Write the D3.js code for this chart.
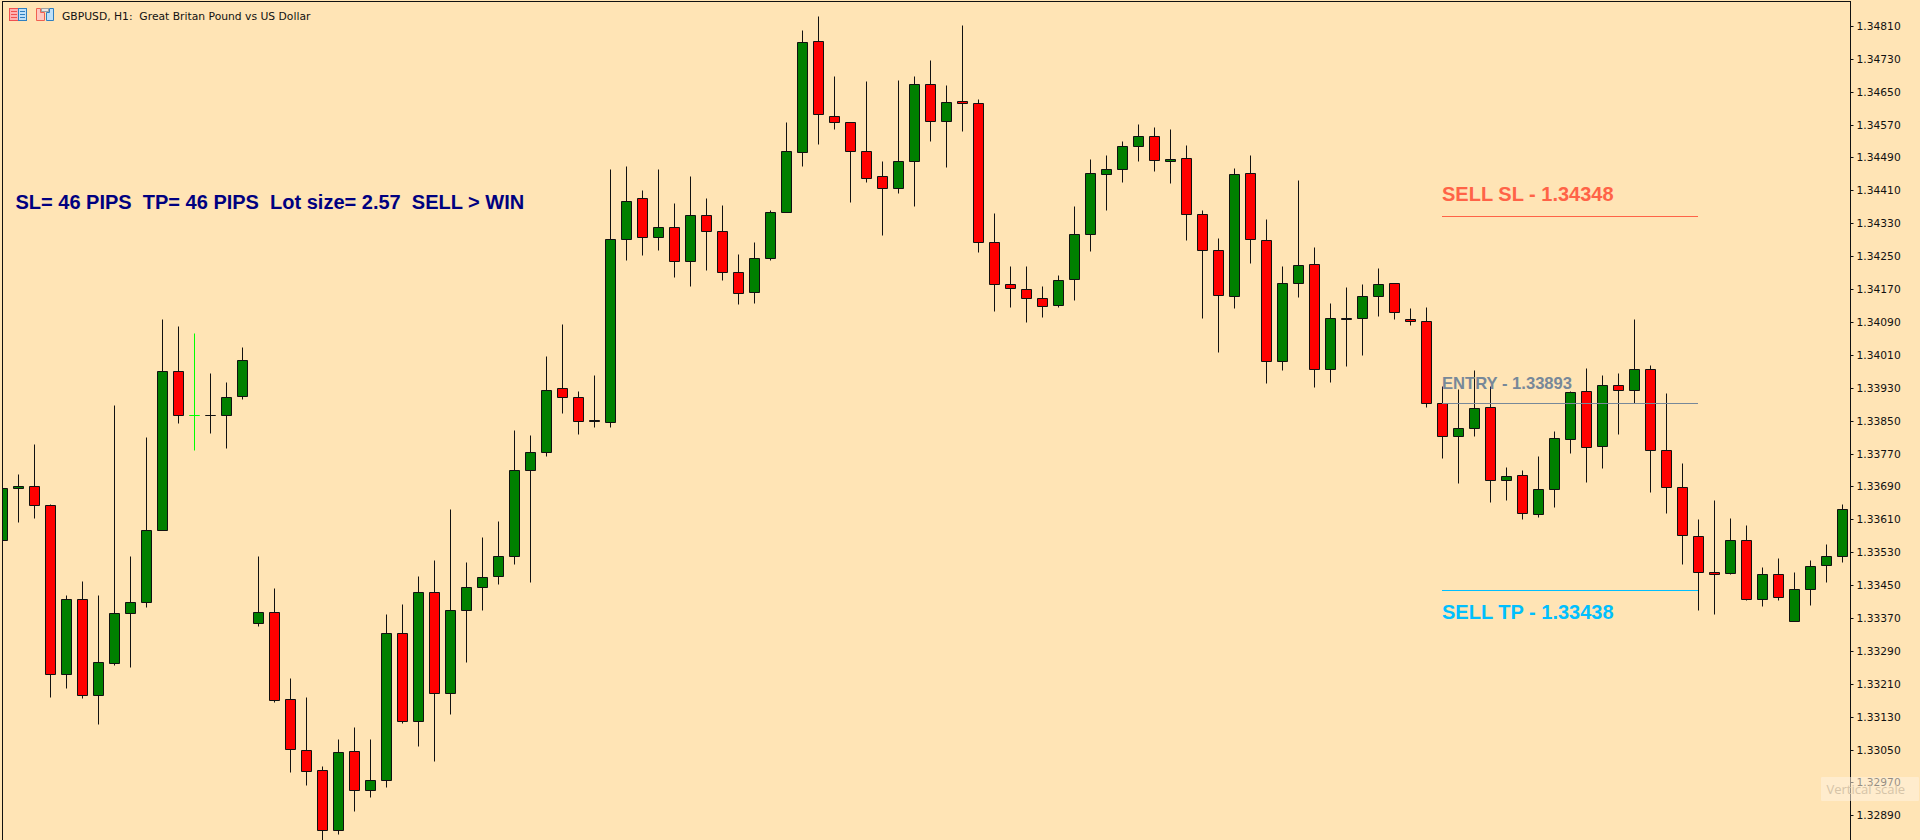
<!DOCTYPE html>
<html><head><meta charset="utf-8">
<script src="https://cdn.jsdelivr.net/npm/d3@7/dist/d3.min.js"></script>
<style>html,body{margin:0;padding:0;background:#FFE4B5;overflow:hidden}svg{display:block}text{white-space:pre}</style>
</head><body><div id="chart"></div>
<script>
const title = "GBPUSD, H1:  Great Britan Pound vs US Dollar";
const info = "SL= 46 PIPS  TP= 46 PIPS  Lot size= 2.57  SELL > WIN";
const priceTicks = [1.34810,1.34730,1.34650,1.34570,1.34490,1.34410,1.34330,1.34250,1.34170,1.34090,1.34010,1.33930,1.33850,1.33770,1.33690,1.33610,1.33530,1.33450,1.33370,1.33290,1.33210,1.33130,1.33050,1.32970,1.32890];
const levels = [
  {name:"SELL SL - 1.34348", price:1.34348, color:"#FF6347", size:20, textAbove:true},
  {name:"ENTRY - 1.33893", price:1.33893, color:"#778899", size:16.6, textAbove:true},
  {name:"SELL TP - 1.33438", price:1.33438, color:"#00BFFF", size:20, textAbove:false}
];
const highlighted = [12];
const opens = [1.33560,1.33687,1.33691,1.33645,1.33234,1.33417,1.33183,1.33261,1.33383,1.33409,1.33585,1.33971,1.33864,1.33864,1.33864,1.33910,1.33358,1.33385,1.33174,1.33050,1.33001,1.32855,1.33047,1.32952,1.32977,1.33334,1.33120,1.33434,1.33188,1.33390,1.33446,1.33473,1.33521,1.33730,1.33774,1.33930,1.33908,1.33851,1.33847,1.34292,1.34392,1.34297,1.34321,1.34239,1.34350,1.34312,1.34212,1.34163,1.34246,1.34358,1.34504,1.34774,1.34591,1.34577,1.34506,1.34445,1.34416,1.34482,1.34669,1.34579,1.34628,1.34623,1.34285,1.34183,1.34170,1.34149,1.34132,1.34195,1.34304,1.34450,1.34462,1.34518,1.34543,1.34482,1.34489,1.34353,1.34265,1.34153,1.34453,1.34290,1.33995,1.34185,1.34231,1.33976,1.34100,1.34100,1.34153,1.34185,1.34098,1.34093,1.33893,1.33813,1.33833,1.33884,1.33706,1.33718,1.33623,1.33684,1.33806,1.33923,1.33789,1.33937,1.33925,1.33976,1.33779,1.33689,1.33570,1.33482,1.33480,1.33560,1.33417,1.33477,1.33363,1.33441,1.33499,1.33521];
const closes = [1.33687,1.33691,1.33645,1.33234,1.33417,1.33183,1.33264,1.33383,1.33409,1.33585,1.33971,1.33864,1.33864,1.33864,1.33908,1.33998,1.33385,1.33171,1.33052,1.32998,1.32855,1.33045,1.32952,1.32977,1.33334,1.33120,1.33434,1.33188,1.33390,1.33446,1.33470,1.33521,1.33730,1.33774,1.33925,1.33908,1.33850,1.33849,1.34292,1.34384,1.34297,1.34321,1.34239,1.34350,1.34312,1.34212,1.34161,1.34246,1.34358,1.34506,1.34771,1.34596,1.34577,1.34506,1.34440,1.34416,1.34482,1.34669,1.34579,1.34625,1.34623,1.34285,1.34183,1.34173,1.34149,1.34129,1.34192,1.34304,1.34453,1.34462,1.34518,1.34543,1.34484,1.34487,1.34353,1.34265,1.34156,1.34450,1.34292,1.33995,1.34185,1.34229,1.33976,1.34100,1.34098,1.34153,1.34183,1.34115,1.34093,1.33893,1.33813,1.33833,1.33881,1.33706,1.33716,1.33626,1.33684,1.33808,1.33920,1.33786,1.33937,1.33925,1.33976,1.33779,1.33689,1.33572,1.33482,1.33477,1.33560,1.33417,1.33477,1.33422,1.33441,1.33497,1.33521,1.33636];
const highs = [1.33707,1.33721,1.33792,1.33648,1.33427,1.33459,1.33425,1.33889,1.33520,1.33809,1.34096,1.34079,1.34064,1.33965,1.33945,1.34028,1.33520,1.33442,1.33223,1.33177,1.33009,1.33076,1.33104,1.33076,1.33379,1.33405,1.33471,1.33510,1.33634,1.33505,1.33568,1.33607,1.33826,1.33814,1.34008,1.34086,1.33921,1.33960,1.34461,1.34468,1.34410,1.34461,1.34380,1.34444,1.34392,1.34375,1.34256,1.34285,1.34361,1.34577,1.34801,1.34833,1.34687,1.34577,1.34675,1.34482,1.34677,1.34687,1.34728,1.34665,1.34811,1.34631,1.34354,1.34227,1.34225,1.34178,1.34205,1.34373,1.34485,1.34495,1.34531,1.34572,1.34565,1.34558,1.34521,1.34361,1.34295,1.34465,1.34495,1.34339,1.34225,1.34434,1.34271,1.34135,1.34176,1.34183,1.34222,1.34185,1.34123,1.34127,1.33935,1.33928,1.33972,1.33935,1.33738,1.33729,1.33763,1.33824,1.33922,1.33977,1.33960,1.33965,1.34098,1.33986,1.33916,1.33746,1.33610,1.33656,1.33614,1.33595,1.33495,1.33517,1.33481,1.33512,1.33549,1.33648];
const lows = [1.33549,1.33603,1.33613,1.33177,1.33199,1.33175,1.33112,1.33255,1.33250,1.33396,1.33585,1.33844,1.33778,1.33819,1.33783,1.33902,1.33350,1.33165,1.32995,1.32963,1.32831,1.32844,1.32900,1.32934,1.32959,1.33114,1.33058,1.33022,1.33136,1.33262,1.33389,1.33452,1.33501,1.33457,1.33763,1.33868,1.33817,1.33834,1.33834,1.34240,1.34252,1.34264,1.34199,1.34177,1.34216,1.34191,1.34133,1.34135,1.34240,1.34358,1.34469,1.34522,1.34559,1.34381,1.34430,1.34301,1.34403,1.34371,1.34529,1.34466,1.34554,1.34259,1.34116,1.34126,1.34089,1.34101,1.34126,1.34143,1.34262,1.34362,1.34430,1.34481,1.34456,1.34427,1.34289,1.34099,1.34016,1.34123,1.34233,1.33941,1.33973,1.34150,1.33931,1.33943,1.33982,1.34009,1.34104,1.34097,1.34082,1.33883,1.33759,1.33698,1.33812,1.33652,1.33658,1.33610,1.33615,1.33639,1.33771,1.33700,1.33734,1.33817,1.33893,1.33676,1.33625,1.33501,1.33389,1.33379,1.33476,1.33413,1.33399,1.33413,1.33363,1.33401,1.33457,1.33506];

const W = 1920, H = 840;
const bg = "#FFE4B5", ink = "#111111";
const x = d3.scaleLinear().domain([0, opens.length - 1]).range([2.5, 1842.5]);
const y = d3.scaleLinear().domain([1.34810, 1.32890]).range([26.3, 815.9]);
const snap = v => Math.floor(v) + 0.5;

const svg = d3.select("#chart").append("svg").attr("width", W).attr("height", H).style("background", bg);
svg.append("defs").append("clipPath").attr("id", "plot").append("rect").attr("x", 3).attr("y", 2).attr("width", 1847).attr("height", 838);

const candles = opens.map((o, i) => ({i, o, c: closes[i], h: highs[i], l: lows[i], lime: highlighted.includes(i)}));
const plot = svg.append("g").attr("clip-path", "url(#plot)");
const g = plot.selectAll("g.candle").data(candles).join("g").attr("class", "candle");
const edge = d => d.lime ? "#00FF00" : ink;
g.append("line").attr("x1", d => x(d.i)).attr("x2", d => x(d.i))
  .attr("y1", d => snap(y(d.h))).attr("y2", d => snap(y(d.l)))
  .attr("stroke", edge).attr("stroke-width", 1);
g.append("path")
  .attr("d", d => {
    const t = snap(y(Math.max(d.o, d.c))), b = snap(y(Math.min(d.o, d.c))), l = x(d.i) - 5;
    return `M${l},${t}H${l + 10}V${b}H${l}Z`;
  })
  .attr("fill", d => d.c > d.o ? "#008000" : d.c < d.o ? "#FF0000" : "none")
  .attr("stroke", edge).attr("stroke-width", 1);

// Trade levels
levels.forEach(l => {
  plot.append("line").attr("x1", 1442).attr("x2", 1698)
    .attr("y1", snap(y(l.price))).attr("y2", snap(y(l.price)))
    .attr("stroke", l.color).attr("stroke-width", 1);
  plot.append("text").attr("x", 1442)
    .attr("y", snap(y(l.price)) + (l.textAbove ? (l.size < 20 ? -14.5 : -15.5) : 28))
    .attr("font-family", "'Liberation Sans',Arial,sans-serif").attr("font-weight", 700)
    .attr("font-size", l.size).attr("fill", l.color).text(l.name);
});

// Info text
svg.append("text").attr("x", 15.5).attr("y", 209)
  .attr("font-family", "'Liberation Sans',Arial,sans-serif").attr("font-weight", 700)
  .attr("font-size", 20).attr("fill", "#000080").text(info);

// Frame
svg.append("line").attr("x1", 2.5).attr("x2", 2.5).attr("y1", 1).attr("y2", H).attr("stroke", ink);
svg.append("line").attr("x1", 2).attr("x2", 1851).attr("y1", 1.5).attr("y2", 1.5).attr("stroke", ink);

// Price axis
const axis = svg.append("g").attr("transform", "translate(1850.5,0)")
  .call(d3.axisRight(y).tickValues(priceTicks).tickFormat(d3.format(".5f")).tickSize(3).tickPadding(3));
axis.select(".domain").attr("d", `M0,1V${H}`).attr("stroke", ink);
axis.selectAll(".tick").attr("transform", d => `translate(0,${snap(y(d))})`);
axis.selectAll(".tick line").attr("stroke", ink).attr("x1", 0.5);
axis.selectAll(".tick text").attr("fill", "#111").attr("font-family", "'DejaVu Sans',sans-serif").attr("font-size", 10.7);

// Title + icons
svg.append("text").attr("x", 62).attr("y", 20).attr("font-family", "'DejaVu Sans',sans-serif")
  .attr("font-size", 10.75).attr("fill", "#111").text(title);
const icons = svg.append("g");
icons.append("rect").attr("x", 9.5).attr("y", 8.5).attr("width", 9).attr("height", 12).attr("fill", "#FFB0B0").attr("stroke", "#F05050");
icons.append("rect").attr("x", 18.5).attr("y", 8.5).attr("width", 8).attr("height", 12).attr("fill", "#BFE0F8").attr("stroke", "#2F7FC0");
[11.5,14.5,17.5].forEach(v => {
  icons.append("line").attr("x1", 11).attr("x2", 17).attr("y1", v).attr("y2", v).attr("stroke", "#F05050");
  icons.append("line").attr("x1", 20).attr("x2", 25).attr("y1", v).attr("y2", v).attr("stroke", "#2F7FC0");
});
icons.append("path").attr("d", "M36.5,8.5H40.5V12.5H44.5V20.5H36.5Z").attr("fill", "#FFC8C0").attr("stroke", "#F06050");
icons.append("path").attr("d", "M46.5,12.5H49.5V8.5H53.5V20.5H46.5Z").attr("fill", "#BFE0F8").attr("stroke", "#2F7FC0");
icons.append("rect").attr("x", 41.5).attr("y", 8.5).attr("width", 7).attr("height", 3).attr("fill", "#E8E8E8").attr("stroke", "#A0A0A0");

// Tooltip
const tip = svg.append("g");
tip.append("rect").attr("x", 1821).attr("y", 777).attr("width", 98).attr("height", 24).attr("rx", 1)
  .attr("fill", "#FFF3E0").attr("fill-opacity", 0.55);
tip.append("text").attr("x", 1826.5).attr("y", 794).attr("font-family", "'Open Sans',sans-serif")
  .attr("font-size", 13).attr("fill", "#D6C4A8").text("Vertical scale");
</script></body></html>
